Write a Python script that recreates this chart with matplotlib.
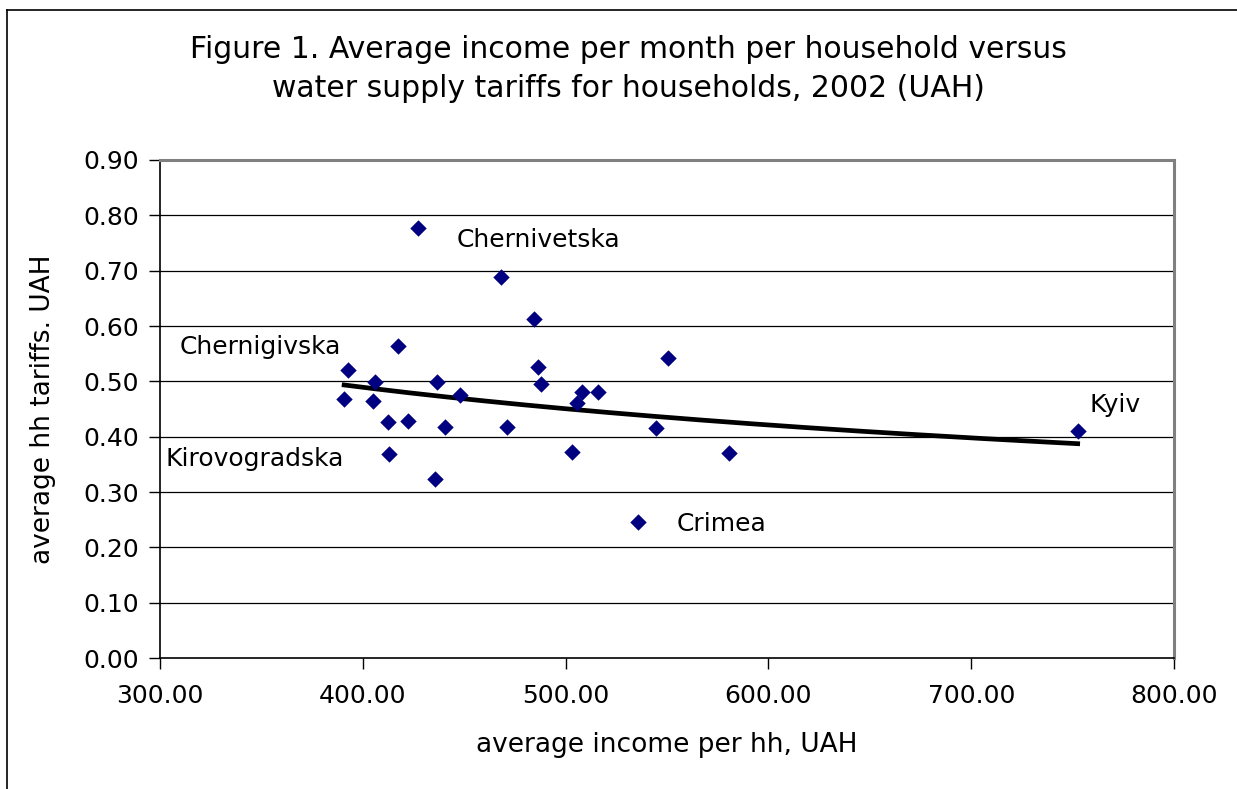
import numpy as np
import matplotlib.pyplot as plt
from matplotlib.lines import Line2D

# average monthly income per household (UAH) and water tariff (UAH) by region
income = [427.4, 468.2, 484.5, 392.9, 417.3, 406.1, 436.5, 390.8, 404.9,
          448.0, 486.6, 487.8, 412.3, 422.2, 440.6, 471.3, 413.1, 435.7,
          508.0, 516.2, 505.8, 550.6, 544.7, 503.1, 580.4, 535.7, 752.5]
tariff = [0.777, 0.689, 0.612, 0.521, 0.563, 0.499, 0.499, 0.468, 0.465,
          0.476, 0.525, 0.495, 0.426, 0.429, 0.418, 0.418, 0.369, 0.324,
          0.481, 0.481, 0.460, 0.542, 0.415, 0.373, 0.370, 0.245, 0.411]

region_labels = ["Chernivetska", "Chernigivska", "Kirovogradska", "Crimea", "Kyiv"]
label_pos = [(446.5, 0.755), (309.5, 0.562), (302.5, 0.360), (554.5, 0.242), (758.5, 0.457)]

xticks = [300, 400, 500, 600, 700, 800]
yticks = [0.0, 0.1, 0.2, 0.3, 0.4, 0.5, 0.6, 0.7, 0.8, 0.9]

fig = plt.figure(figsize=(12.37, 7.89), dpi=100)
ax = fig.add_axes([160 / 1237, 1 - 658 / 789, 1014 / 1237, 498 / 789])

# outer chart frame (left and top edges only show)
fig.add_artist(Line2D([7.5 / 1237, 7.5 / 1237], [0, 1 - 10 / 789], color="black", lw=1.2))
fig.add_artist(Line2D([7.5 / 1237, 1], [1 - 10 / 789, 1 - 10 / 789], color="black", lw=1.2))

for y in yticks[1:-1]:
    ax.axhline(y, color="black", lw=0.9, zorder=1)

ax.scatter(income, tariff, marker="D", s=70, color="#000080", zorder=3, linewidths=0)

# power trendline
b, loga = np.polyfit(np.log(income), np.log(tariff), 1)
xs = np.linspace(min(income), max(income), 200)
ax.plot(xs, np.exp(loga) * xs ** b, color="black", lw=3.4, zorder=2)

for name, (lx, ly) in zip(region_labels, label_pos):
    ax.text(lx, ly, name, fontsize=18, ha="left", va="center")

ax.set_xlim(300, 800)
ax.set_ylim(0, 0.9)
ax.set_xticks(xticks)
ax.set_xticklabels([f"{v:.2f}" for v in xticks])
ax.set_yticks(yticks)
ax.set_yticklabels([f"{v:.2f}" for v in yticks])
ax.tick_params(labelsize=18, length=8, width=1, direction="out", color="black")
ax.tick_params(axis="x", pad=11)
ax.tick_params(axis="y", pad=7)

for side in ["top", "right"]:
    ax.spines[side].set_color("#808080")
    ax.spines[side].set_linewidth(2.2)
for side in ["left", "bottom"]:
    ax.spines[side].set_color("black")
    ax.spines[side].set_linewidth(1.2)

ax.set_xlabel("average income per hh, UAH", fontsize=19, labelpad=17)
ax.set_ylabel("average hh tariffs. UAH", fontsize=19, labelpad=20)
fig.text(628 / 1237, 1 - 69 / 789,
         "Figure 1. Average income per month per household versus\n"
         "water supply tariffs for households, 2002 (UAH)",
         fontsize=21.5, ha="center", va="center", linespacing=1.42)

fig.savefig("out.png", dpi=100)
